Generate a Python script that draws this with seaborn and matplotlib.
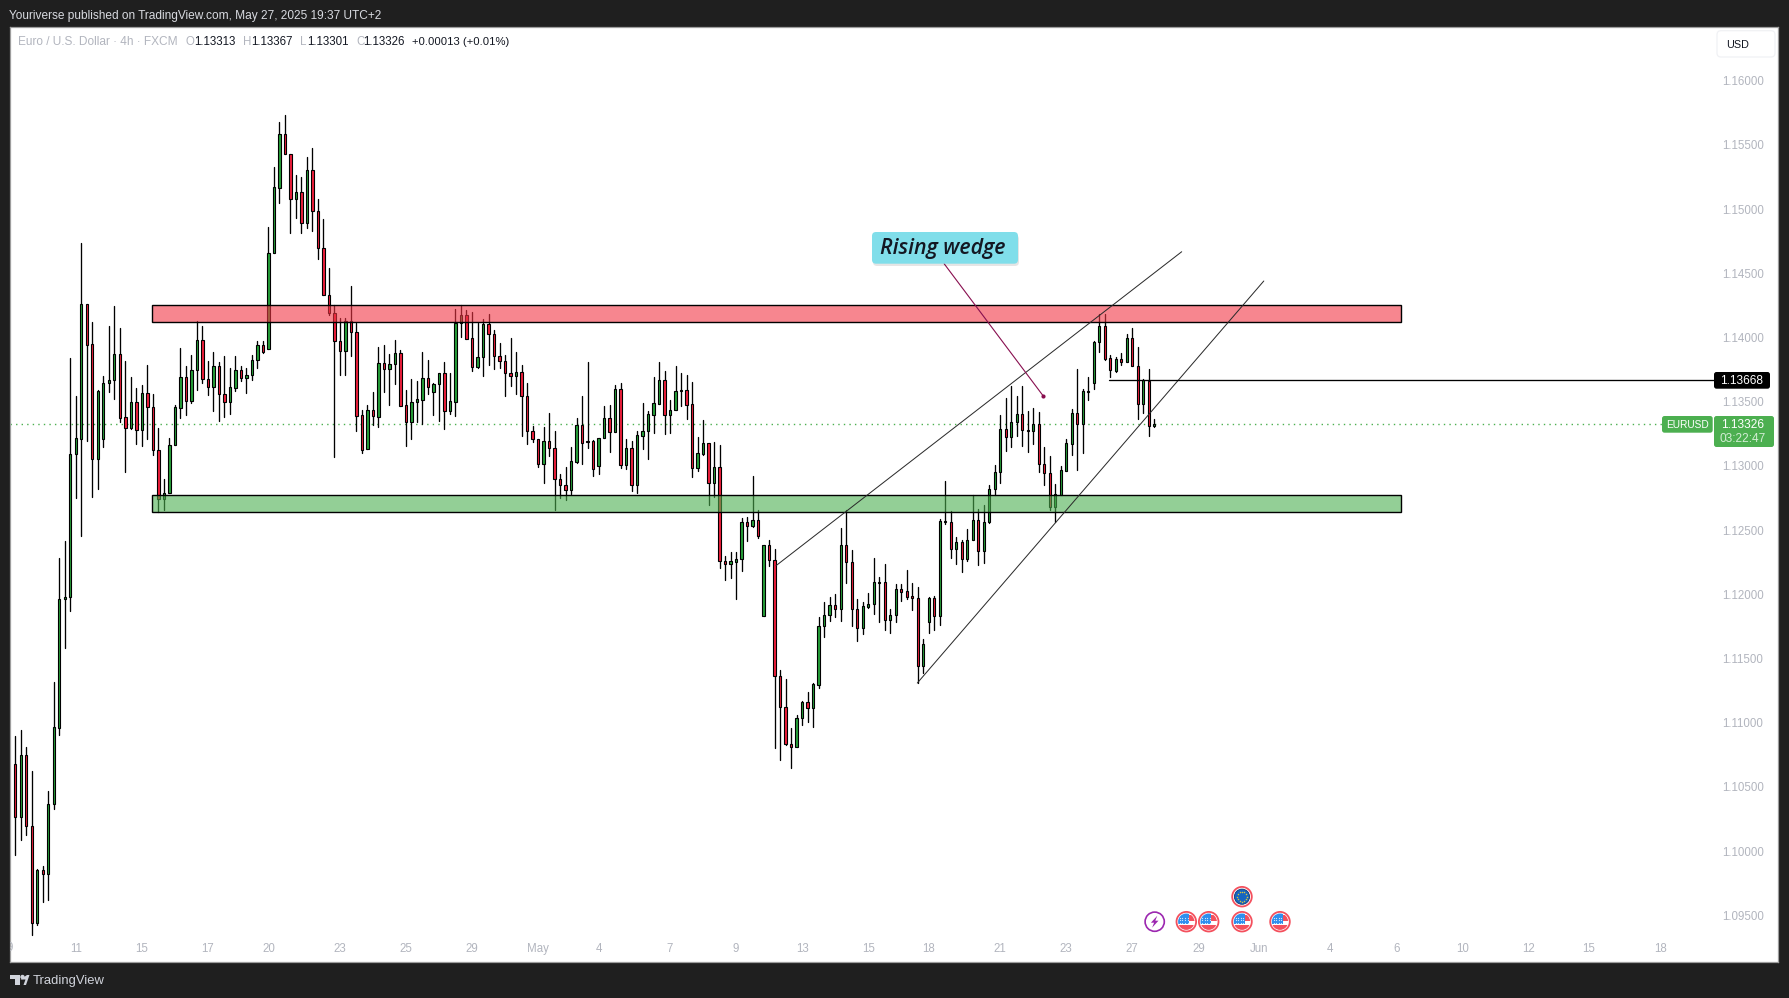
import numpy as np
import pandas as pd
import matplotlib
matplotlib.use("Agg")
import matplotlib.pyplot as plt
from matplotlib.lines import Line2D
from matplotlib.patches import Rectangle, FancyBboxPatch, Circle, Polygon
from matplotlib.transforms import IdentityTransform
import seaborn as sns

# Prices in points (1e-5), one entry per 4h candle
opens = [110676,110263,110746,110193,109442,109850,109819,110365,110961,111961,
 111977,113090,113212,114259,113947,113051,113207,113643,113666,113869,
 113378,113297,113495,113277,113565,113456,113122,112740,112787,113160,
 113453,113690,113508,113745,113978,113675,113617,113776,113558,113500,
 113609,113745,113687,113706,113822,113940,113908,114655,115167,115582,
 115427,115081,115131,114894,115302,114988,114699,114333,114188,113971,
 113897,114126,114045,113394,113129,113433,113383,113799,113757,113792,
 113877,113472,113344,113495,113516,113682,113578,113635,113721,113430,
 113500,114110,114173,113994,113773,113846,114103,114025,113854,113819,
 113726,113703,113729,113547,113274,113212,113017,113192,113142,112901,
 112854,112812,113033,113319,113192,113192,113002,113215,113371,113262,
 113597,113010,113137,112854,113235,113270,113399,113485,113666,113399,
 113433,113581,113589,113479,112986,113095,113176,112869,112989,112257,
 112238,112254,112273,112561,112535,112576,111829,112382,112265,111366,
 111125,110834,110813,111034,111159,111112,111296,111751,111837,111915,
 111884,112382,112249,111884,111735,111903,111922,112090,112094,111798,
 111837,112039,112023,111985,111969,111439,111787,111969,111829,112561,
 112561,112350,112405,112273,112421,112576,112335,112561,112818,112950,
 113285,113223,113339,113402,113277,113270,113324,113013,112942,112682,
 112776,112958,113173,113410,113326,113578,113648,113963,114087,113838,
 113742,113830,113807,113994,113776,113480,113661,113313]
closes = [110263,110746,110193,109442,109850,109819,110365,110964,111961,111977,
 113090,113215,114259,113944,113051,113583,113643,113666,113869,113375,
 113297,113495,113277,113565,113456,113122,112740,112787,113160,113456,
 113690,113508,113745,113978,113675,113617,113776,113558,113500,113612,
 113745,113687,113706,113822,113940,113890,114655,115170,115582,115427,
 115081,115131,114894,115302,114988,114699,114333,114188,113971,113897,
 114126,114045,113391,113126,113433,113386,113799,113757,113792,113877,
 113469,113344,113495,113519,113682,113617,113638,113721,113430,113503,
 114113,114173,113991,113773,113846,114103,114025,113854,113819,113726,
 113703,113729,113547,113274,113212,113017,113192,113142,112901,112854,
 112812,113036,113319,113181,113184,112978,113215,113371,113262,113597,
 113010,113137,112854,113238,113270,113402,113488,113666,113399,113433,
 113581,113589,113476,112986,113098,113176,112869,112989,112257,112238,
 112257,112273,112561,112535,112576,112457,112382,112265,111366,111125,
 110834,110813,111034,111159,111112,111299,111751,111837,111915,111884,
 112382,112249,111884,111735,111907,111922,112094,112096,111798,111837,
 112039,112020,111981,111969,111439,111611,111969,111829,112569,112569,
 112350,112405,112273,112421,112576,112335,112561,112818,112950,113285,
 113223,113339,113402,113277,113270,113324,113013,112942,112682,112779,
 112966,113176,113410,113326,113583,113583,113963,114087,113835,113745,
 113830,113807,113994,113776,113480,113666,113308,113326]
highs = [110897,110943,110811,110624,109863,109884,110468,111317,112283,112416,
 113838,113544,114734,114259,114118,113591,113700,114087,114245,114074,
 113817,113692,113604,113630,113784,113557,113292,112896,113215,113474,
 113918,113778,113861,114126,114087,113815,113887,113807,113856,113760,
 113856,113778,113760,113861,113971,113971,114858,115325,115678,115733,
 115427,115266,115250,115403,115474,115079,114923,114541,114253,114150,
 114150,114401,114113,113433,113472,113573,113926,113942,113871,113980,
 113903,113591,113677,113661,113887,113825,113643,113721,113809,113721,
 114222,114250,114214,114196,114113,114142,114181,114058,113955,113861,
 113994,113887,113784,113643,113311,113212,113303,113412,113272,112937,
 112989,113145,113373,113542,113807,113200,113215,113464,113474,113630,
 113643,113207,113194,113272,113490,113428,113690,113809,113739,113513,
 113778,113721,113706,113653,113225,113357,113176,113186,113163,112298,
 112329,112327,112592,112600,112921,112655,112382,112421,112350,111408,
 111338,110956,111060,111167,111237,111307,111821,111938,111977,112000,
 112515,112655,112343,111961,111938,112008,112280,112133,112234,111884,
 112078,112078,112189,112088,112055,111650,111977,111985,112586,112881,
 112649,112444,112425,112506,112771,112662,112693,112849,113005,113394,
 113529,113620,113542,113620,113425,113449,113418,113145,113080,112857,
 112997,113207,113441,113752,113597,113690,113971,114181,114181,113861,
 113846,113877,114027,114072,113924,113675,113752,113367]
lows = [109972,110086,110128,109349,109424,109603,109619,110328,110907,111582,
 111873,112753,112457,113196,112760,112823,113149,113578,113521,113339,
 112955,113285,113173,113157,113207,113088,112641,112657,112787,113160,
 113375,113399,113492,113591,113648,113555,113428,113352,113383,113404,
 113583,113664,113570,113669,113763,113882,113908,114655,115050,115427,
 114816,114931,114816,114855,114832,114614,114333,114178,113072,113710,
 113710,113858,113274,113103,113129,113319,113305,113576,113476,113638,
 113469,113157,113210,113344,113326,113558,113397,113352,113288,113404,
 113389,114003,113991,113739,113765,113700,113786,113755,113763,113544,
 113622,113560,113233,113171,113186,112994,112869,113077,112657,112753,
 112735,112784,113025,113017,113142,112924,112939,113215,113111,113262,
 112984,112974,112807,112791,113132,113056,113259,113485,113251,113259,
 113433,113467,113365,112916,112962,113085,112699,112754,112207,112114,
 112129,111966,112184,112418,112527,112441,111829,112221,110805,110712,
 110829,110650,110813,110985,111008,110969,111273,111670,111795,111826,
 111795,112090,111755,111639,111689,111891,111849,111787,111724,111701,
 111787,111945,111967,111880,111307,111387,111696,111724,111763,112550,
 112285,112238,112176,112262,112421,112231,112246,112553,112771,112869,
 113119,113149,113235,113157,113111,113173,112950,112849,112657,112561,
 112776,112958,113083,112971,113103,113513,113597,113885,113827,113690,
 113734,113784,113807,113776,113368,113410,113235,113301]

x_tick_positions = [11,23,35,46,59,71,83,95,106,119,131,143,155,166,179,191,203,215,226,239,251,263,275,286,299]
x_tick_labels = ["11","15","17","20","23","25","29","May","4","7","9","13","15","18","21","23","27","29","Jun","4","6","10","12","15","18"]
price_ticks = [1.095,1.100,1.105,1.110,1.115,1.120,1.125,1.130,1.135,1.140,1.145,1.150,1.155,1.160]

resistance_zone = (1.14118, 1.14250)
support_zone = (1.12639, 1.12772)
zone_span = (24.9, 251.9)
upper_trend_i, upper_trend_p = [138.25, 211.98], [1.12223, 1.14668]
lower_trend_i, lower_trend_p = [163.93, 226.9], [1.11309, 1.14440]
callout_i, callout_p = [168.8, 186.83], [1.14575, 1.13544]
last_price = 1.13326
marked_price = 1.13668

W, H = 1789, 998
DARK = "#1f1f1f"
GREY = "#b2b5be"
UP = "#27a03a"
DOWN = "#f01f3c"
SANS = "Liberation Sans"

sns.set_theme(style="white")
plt.rcParams["font.family"] = [SANS, "DejaVu Sans"]

fig = plt.figure(figsize=(W / 100, H / 100), dpi=100, facecolor=DARK)
L, R, T, B = 10.3, 1778.0, 27.0, 962.0
ax = fig.add_axes([L / W, 1 - B / H, (R - L) / W, (B - T) / H], facecolor="white")

n = len(opens)
idx = np.arange(n)
o, c, hi, lo = [np.array(a) / 1e5 for a in (opens, closes, highs, lows)]

wicks = pd.DataFrame({"i": np.r_[idx, idx], "price": np.r_[hi, lo]})
sns.lineplot(data=wicks, x="i", y="price", units="i", estimator=None, color="black",
             linewidth=0.95, legend=False, ax=ax, zorder=2)

colors = [UP if cc >= oo else DOWN for oo, cc in zip(o, c)]
ax.bar(idx, np.maximum(np.abs(c - o), 1e-6), bottom=np.minimum(o, c), width=0.42,
       color=colors, edgecolor="black", linewidth=0.8, zorder=3)

# zones
for (z0, z1), col in ((resistance_zone, "#f23645"), (support_zone, "#4caf50")):
    ax.add_patch(Rectangle((zone_span[0], z0), zone_span[1] - zone_span[0], z1 - z0,
                           facecolor=col, alpha=0.6, edgecolor="none", zorder=4))
    ax.add_patch(Rectangle((zone_span[0], z0), zone_span[1] - zone_span[0], z1 - z0,
                           facecolor="none", edgecolor="black", linewidth=1.0, zorder=4.1))

# lines
for xs, ys, col, lw in ((upper_trend_i, upper_trend_p, "#2a2a2a", 0.72),
                        (lower_trend_i, lower_trend_p, "#2a2a2a", 0.72),
                        (callout_i, callout_p, "#880e4f", 0.8)):
    sns.lineplot(x=xs, y=ys, color=col, linewidth=lw, ax=ax, zorder=5, legend=False, estimator=None)
ax.scatter([callout_i[1]], [callout_p[1]], s=9, color="#880e4f", zorder=6, linewidths=0)
sns.lineplot(x=[198.8, 308.7], y=[marked_price, marked_price], color="black", linewidth=0.95,
             ax=ax, zorder=5, legend=False, estimator=None)
ax.plot([-1, 300.3], [last_price, last_price], color="#4caf50", linewidth=1.0,
        linestyle=(0, (1, 3)), zorder=1.5)

ax.set_xlim((L - 15.3) / 5.5024, (R - 15.3) / 5.5024)
ax.set_ylim(1.16 - (B - 80.7) * 7.788e-5, 1.16 - (T - 80.7) * 7.788e-5)
ax.set_xlabel("")
ax.set_ylabel("")
ax.set_xticks(x_tick_positions)
ax.set_xticklabels(x_tick_labels)
ax.yaxis.tick_right()
ax.set_yticks(price_ticks)
ax.set_yticklabels([f"{p:.5f}" for p in price_ticks])
ax.tick_params(axis="x", length=0, pad=-13.7, labelsize=8.3, labelcolor=GREY)
ax.tick_params(axis="y", length=0, pad=-40.3, labelsize=8.3, labelcolor=GREY)
for lab in ax.get_yticklabels():
    lab.set_ha("left")
for s in ax.spines.values():
    s.set_color("#9d9d9d")
    s.set_linewidth(0.9)
ax.text(-1, (B - 948.3) / (B - T), "9", color=GREY, fontsize=8.3, ha="center", va="center",
        clip_on=True, transform=ax.get_xaxis_transform())

ID = IdentityTransform()


def txt(x, y, s, color, size=8.3, ha="left", weight="normal", style="normal", family=SANS, z=10):
    fig.text(x / W, 1 - y / H, s, color=color, fontsize=size, ha=ha, va="center",
             fontweight=weight, fontstyle=style, family=family, zorder=z)


def rbox(x0, y0, x1, y1, r, fc, ec="none", lw=0.0, alpha=1.0, z=8):
    p = FancyBboxPatch((x0, H - y1), x1 - x0, y1 - y0, boxstyle=f"round,pad=0,rounding_size={r}",
                       facecolor=fc, edgecolor=ec, linewidth=lw, alpha=alpha, transform=ID, zorder=z)
    fig.add_artist(p)
    return p


# header strings
txt(9, 15.8, "Youriverse published on TradingView.com, May 27, 2025 19:37 UTC+2", "#d8dae0", size=8.55)
txt(18, 42.2, "Euro / U.S. Dollar · 4h · FXCM", GREY, size=8.6)
for x0, lab, x1, val in ((185.6, "O", 194.4, "1.13313"), (243, "H", 251.4, "1.13367"),
                         (300.4, "L", 307.3, "1.13301"), (356, "C", 363.6, "1.13326")):
    txt(x0, 42.2, lab, GREY, size=8.3)
    txt(x1, 42.2, val, "#131722", size=8.3)
txt(412.5, 42.2, "+0.00013 (+0.01%)", "#131722", size=8.15)

# currency button
rbox(1717, 30.7, 1775, 57, 4, "white", ec="#f0f1f4", lw=0.9)
txt(1726, 45.5, "USD", "#131722", size=7.8)

# price tags
rbox(1714, 372, 1770, 388.7, 2.5, "black")
txt(1742, 381.5, "1.13668", "white", size=8.6, ha="center", weight="bold" if False else "normal")
rbox(1662, 416, 1712.7, 432.7, 2.5, "#4caf50")
txt(1687.3, 425.3, "EURUSD", "white", size=7.3, ha="center")
rbox(1714, 416, 1774, 447, 2.5, "#4caf50")
txt(1743, 425.5, "1.13326", "white", size=8.6, ha="center")
txt(1743, 439.3, "03:22:47", "#d3edd4", size=8.6, ha="center")

# callout
rbox(873, 235, 1019, 266, 4, "#000000", alpha=0.10, z=6)
rbox(872, 232, 1018, 263.7, 4, "#80deea", z=7)
txt(880, 248.8, "Rising wedge", "#131722", size=15.4, style="italic", weight="semibold", family="Open Sans")

# footer
txt(33, 980.7, "TradingView", "#d1d4dc", size=9.4)
for pts in ([(10, 975), (19.5, 975), (19.5, 985), (14.5, 985), (14.5, 979), (10, 979)],
            [(23.5, 985), (25.5, 979.5), (20.5, 979.5), (20.5, 979.5), (27, 975), (29.5, 975), (26, 985)]):
    fig.add_artist(Polygon([(a, H - b) for a, b in pts], closed=True, facecolor="#d1d4dc",
                           edgecolor="none", transform=ID, zorder=9))
fig.add_artist(Circle((22.5, H - 977), 2.2, facecolor="#d1d4dc", edgecolor="none", transform=ID, zorder=9))


# event badges
def us_badge(cx, cy):
    y = H - cy
    fig.add_artist(Circle((cx, y), 9.8, facecolor="white", edgecolor="#f4505d", linewidth=1.3, transform=ID, zorder=9))
    fig.add_artist(Circle((cx, y), 8.2, facecolor="white", edgecolor="none", transform=ID, zorder=9.1))
    clip = Circle((cx, y), 8.2, transform=ID)
    for (dx0, dy0, w, h, col) in ((-9, -8.5, 18, 4.8, "#f4505d"),
                                  (2.7, 1.0, 6.5, 5.7, "#f4505d"),
                                  (-9, -2.7, 11.7, 11.2, "#2f8fee")):
        r = Rectangle((cx + dx0, y + dy0), w, h, facecolor=col, edgecolor="none", transform=ID, zorder=9.2)
        fig.add_artist(r)
        r.set_clip_path(clip)
    gx, gy = np.meshgrid(np.arange(-6.5, 2.5, 2.6), np.arange(-1.2, 6.5, 2.6))
    fig.add_artist(Line2D(cx + gx.ravel(), y + gy.ravel(), linestyle="none", marker="o", markersize=0.9,
                          color="#cfe6fc", markeredgewidth=0, transform=ID, zorder=9.3))


for ex in (1186.3, 1208.7, 1242.0, 1280.0):
    us_badge(ex, 921.7)

fig.add_artist(Circle((1242, H - 896.7), 9.8, facecolor="white", edgecolor="#f4505d", linewidth=1.3, transform=ID, zorder=9))
fig.add_artist(Circle((1242, H - 896.7), 7.6, facecolor="#1565c0", edgecolor="#123a70", linewidth=0.6, transform=ID, zorder=9.1))
star_angles = np.linspace(0, 2 * np.pi, 12, endpoint=False)
fig.add_artist(Line2D(1242 + 4.9 * np.cos(star_angles), H - 896.7 + 4.9 * np.sin(star_angles),
                      linestyle="none", marker="o", markersize=1.1, color="#d7c23c",
                      markeredgewidth=0, transform=ID, zorder=9.2))

fig.add_artist(Circle((1154.7, H - 921.7), 9.6, facecolor="white", edgecolor="#9c27b0", linewidth=1.2, transform=ID, zorder=9))
bolt = [(2.6, 6), (-3.8, -1), (-0.6, -1), (-2.6, -6), (3.8, 1), (0.6, 1)]
fig.add_artist(Polygon([(1154.7 + a, H - 921.7 + b) for a, b in bolt], closed=True, facecolor="#9c27b0",
                       edgecolor="none", transform=ID, zorder=9.1))

fig.savefig("out.png", dpi=100, facecolor=DARK)
